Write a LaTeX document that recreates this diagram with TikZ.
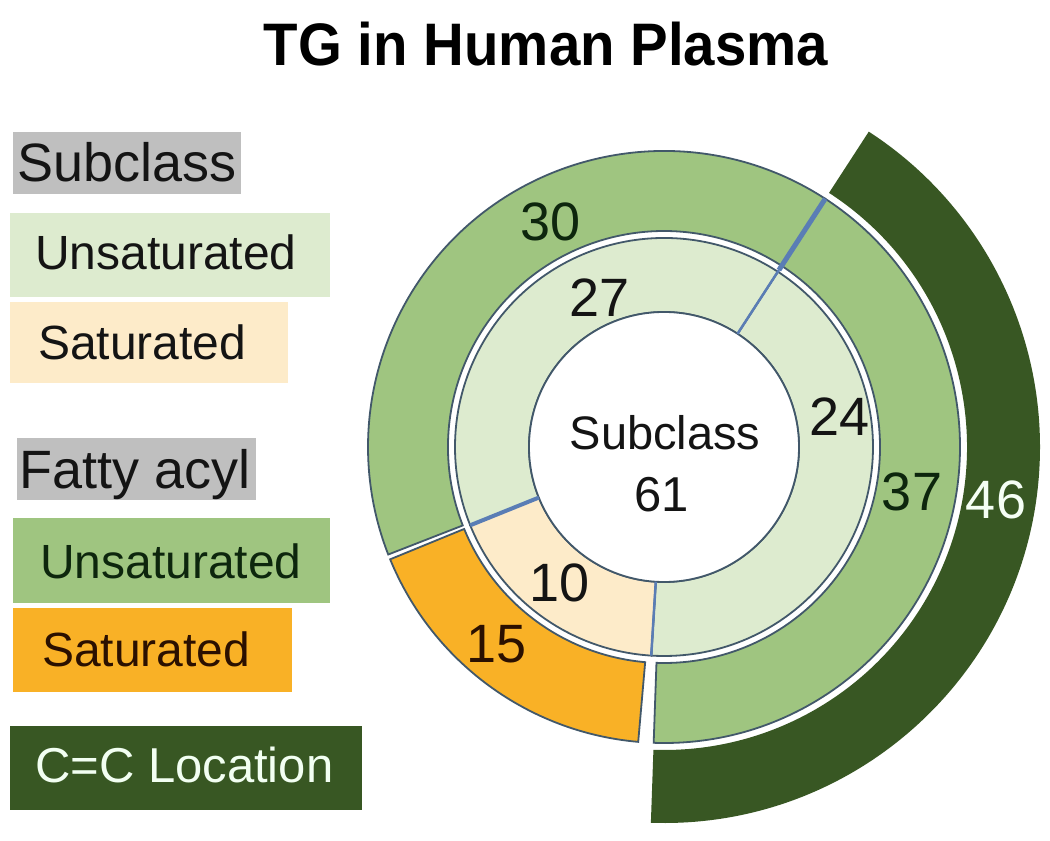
\documentclass[tikz,border=0pt]{standalone}
\usepackage{fontspec}
\setmainfont{Liberation Sans}
\usetikzlibrary{calc}
\definecolor{subU}{HTML}{DDEBCF}
\definecolor{subS}{HTML}{FDEBC9}
\definecolor{faU}{HTML}{9FC580}
\definecolor{faS}{HTML}{F9B126}
\definecolor{ccG}{HTML}{385723}
\definecolor{legG}{HTML}{BFBFBF}
\definecolor{edgeC}{HTML}{42586A}
\definecolor{cutB}{HTML}{5A7DB5}
\definecolor{txtG}{HTML}{0D260D}
\definecolor{txtB}{HTML}{2B1000}
\newcommand{\ringseg}[5][]{%
  \path[#1] ($(C)+(#2:#5)$) arc[start angle=#2, end angle=#3, radius=#5]
    -- ($(C)+(#3:#4)$) arc[start angle=#3, end angle=#2, radius=#4] -- cycle;}
\tikzset{
  segline/.style={draw=edgeC, line width=1.8pt},
  numlab/.style={inner sep=0pt, font=\fontsize{54}{54}\selectfont},
  legbig/.style={inner sep=0pt, anchor=base west, font=\fontsize{54}{54}\selectfont, text=black!92},
  legsmall/.style={inner sep=0pt, anchor=base west, font=\fontsize{48}{48}\selectfont},
}
\begin{document}
\begin{tikzpicture}[x=1pt, y=1pt]
\fill[white] (0,0) rectangle (1050,841);
\useasboundingbox (0,0) rectangle (1050,841);

% title
\node[anchor=base, inner sep=0pt] (title) at (546,775)
  {\scalebox{0.94}[1]{\bfseries\fontsize{60}{60}\selectfont TG in Human Plasma}};

% legend
\fill[legG] (13,647) rectangle (241,709);
\node[legbig] (lsub) at (17,659) {Subclass};
\fill[subU] (10,544) rectangle (330,628);
\node[legsmall, text=black!92] (lsubU) at (35,571) {Unsaturated};
\fill[subS] (10,458) rectangle (288,539);
\node[legsmall, text=black!92] (lsubS) at (38,481) {Saturated};
\fill[legG] (17,341) rectangle (256,403);
\node[legbig] (lfa) at (19,352) {Fatty acyl};
\fill[faU] (13,238) rectangle (330,323);
\node[legsmall, text=txtG] (lfaU) at (40,262) {Unsaturated};
\fill[faS] (13,149) rectangle (292,233);
\node[legsmall, text=txtB] (lfaS) at (42,174) {Saturated};
\fill[ccG] (10,31) rectangle (362,115);
\node[legsmall, text=white!95!green, font=\fontsize{49}{49}\selectfont] (lcc) at (35,58) {C=C Location};

% chart
\coordinate (C) at (664,394);
% C=C location arc
\ringseg[fill=ccG]{-92}{57}{303}{376}
% fatty acyl ring
\ringseg[fill=faU, segline]{-92}{57}{216}{296}
\ringseg[fill=faU, segline]{57}{201.3}{216}{296}
\ringseg[fill=faS, segline]{202.3}{265}{216}{296}
% subclass ring
\ringseg[fill=subU, segline]{-93.5}{57}{135}{209}
\ringseg[fill=subU, segline]{57}{202}{135}{209}
\ringseg[fill=subS, segline]{202}{266.5}{135}{209}
% centre
\draw[segline, fill=white] (C) circle[radius=135];
% cut lines
\draw[cutB, line width=2.5pt] ($(C)+(57:135)$) -- ($(C)+(57:211)$);
\draw[cutB, line width=5pt] ($(C)+(57:211)$) -- ($(C)+(57:296)$);
\draw[cutB, line width=4pt] ($(C)+(202:135)$) -- ($(C)+(202:209)$);
\draw[cutB, line width=2.5pt] ($(C)+(266.5:135)$) -- ($(C)+(266.5:209)$);

% labels
\node[numlab, text=txtG] (n30) at (551,619) {30};
\node[numlab, text=black!92] (n27) at (600,543) {27};
\node[numlab, text=black!92] (n24) at (840,424) {24};
\node[numlab, text=txtG] (n37) at (912,349) {37};
\node[numlab, text=white!96!green] (n46) at (996,341) {46};
\node[numlab, text=black!92] (n10) at (560,258) {10};
\node[numlab, text=txtB] (n15) at (497,197) {15};
\node[inner sep=0pt, anchor=base, font=\fontsize{47}{47}\selectfont, text=black!92] (csub) at (665,391) {Subclass};
\node[inner sep=0pt, anchor=base, font=\fontsize{49}{49}\selectfont, text=black!92] (c61) at (662,329) {61};
\end{tikzpicture}
\end{document}
